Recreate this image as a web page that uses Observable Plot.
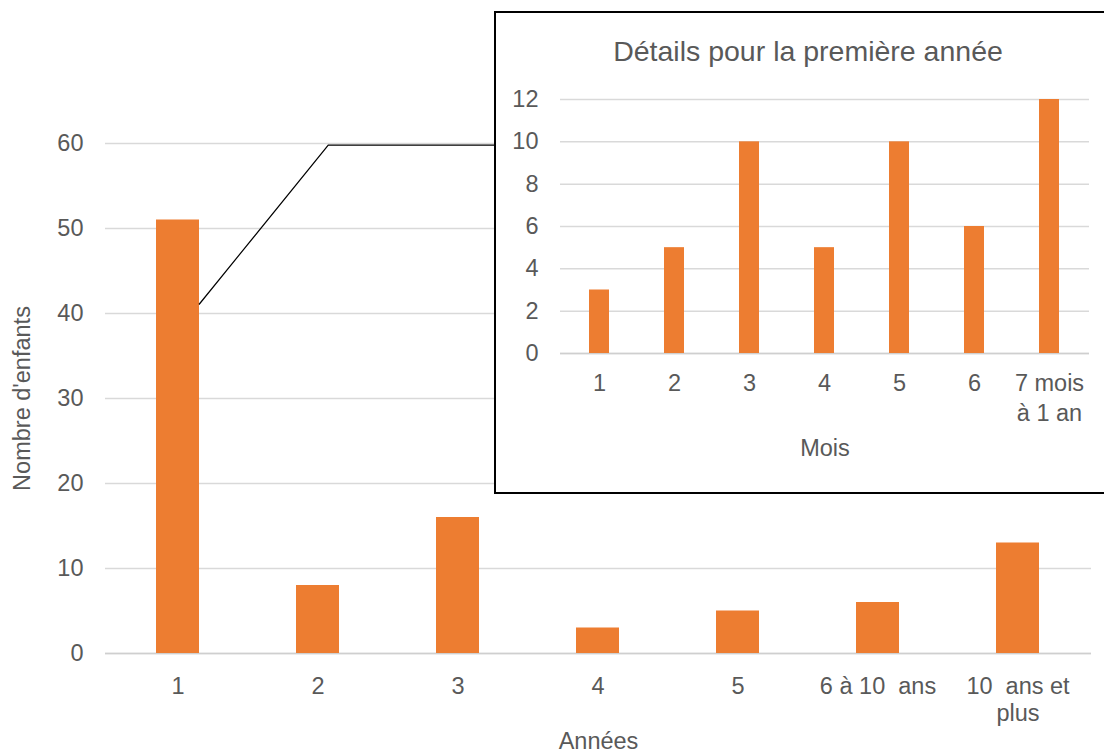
<!DOCTYPE html>
<html>
<head>
<meta charset="utf-8">
<script src="https://cdn.jsdelivr.net/npm/d3@7"></script>
<script src="https://cdn.jsdelivr.net/npm/@observablehq/plot@0.6"></script>
<style>
  html, body { margin: 0; padding: 0; background: #fff; }
  #wrap { position: relative; width: 1104px; height: 755px; overflow: hidden; background: #fff; }
  #inset { position: absolute; left: 494px; top: 11px; width: 626px; height: 479px; border: 2px solid #000; background: #fff; }
  svg text { white-space: pre; }
</style>
</head>
<body>
<div id="wrap"><div id="main"></div><div id="inset"></div></div>
<script>
// ---- Data ----
const annees = ["1", "2", "3", "4", "5", "6 à 10  ans", "10  ans et\nplus"];
const enfants = [51, 8, 16, 3, 5, 6, 13];
const yTicksMain = [0, 10, 20, 30, 40, 50, 60];

const mois = ["1", "2", "3", "4", "5", "6", "7 mois\nà 1 an"];
const enfantsMois = [3, 5, 10, 5, 10, 6, 12];
const yTicksInset = [0, 2, 4, 6, 8, 10, 12];

const mainTitleX = "Années";
const mainTitleY = "Nombre d'enfants";
const insetTitle = "Détails pour la première année";
const insetTitleX = "Mois";

const mainData = annees.map((c, i) => ({cat: c, val: enfants[i]}));
const insetData = mois.map((c, i) => ({cat: c, val: enfantsMois[i]}));

const FONT = "'Liberation Sans', Arial, Helvetica, sans-serif";
const TXT = "#595959";
const ORANGE = "#ED7D31";
const GRID = "#d9d9d9";
const FS = 23.5;

// connector from the first bar to the inset
function connector(index, scales, values, dims) {
  const x = scales.x, y = scales.y, bw = x.bandwidth();
  const x0 = x(annees[0]) + bw, y0 = y(41);
  const x1 = x(annees[1]) + bw * 0.75, y1 = y(59.75);
  const x2 = 496;
  return d3.create("svg:path")
    .attr("d", `M${x0},${y0}L${x1},${y1}L${x2},${y1}`)
    .attr("fill", "none").attr("stroke", "#000").attr("stroke-width", 1.2)
    .node();
}

const main = Plot.plot({
  width: 1104, height: 755,
  marginLeft: 105, marginRight: 13, marginTop: 143, marginBottom: 102,
  style: {fontFamily: FONT, fontSize: FS + "px", color: TXT, background: "#fff"},
  x: {domain: annees, paddingInner: 0.69, paddingOuter: 0.345, label: null},
  y: {domain: [0, 60], label: null},
  marks: [
    Plot.gridY(yTicksMain, {stroke: GRID, strokeOpacity: 1, strokeWidth: 1.5}),
    Plot.ruleY([0], {stroke: "#cfcfcf", strokeWidth: 1.5}),
    Plot.barY(mainData, {x: "cat", y: "val", fill: ORANGE}),
    Plot.axisY({ticks: yTicksMain, tickSize: 0, tickPadding: 22, label: null, fill: TXT}),
    Plot.axisX({tickSize: 0, tickPadding: 21, lineHeight: 1.15, label: null, fill: TXT}),
    Plot.text([mainTitleY], {frameAnchor: "left", textAnchor: "middle", rotate: -90, dx: -83, fill: TXT, fontSize: FS}),
    Plot.text([mainTitleX], {frameAnchor: "bottom", dy: 95, fill: TXT, fontSize: FS}),
    connector
  ]
});
document.getElementById("main").appendChild(main);

const inset = Plot.plot({
  width: 626, height: 479,
  marginLeft: 64, marginRight: 33, marginTop: 86, marginBottom: 139,
  style: {fontFamily: FONT, fontSize: FS + "px", color: TXT, background: "#fff"},
  x: {domain: mois, paddingInner: 0.73, paddingOuter: 0.365, label: null},
  y: {domain: [0, 12], label: null},
  marks: [
    Plot.gridY(yTicksInset, {stroke: GRID, strokeOpacity: 1, strokeWidth: 1.5}),
    Plot.ruleY([0], {stroke: "#cfcfcf", strokeWidth: 1.5}),
    Plot.barY(insetData, {x: "cat", y: "val", fill: ORANGE}),
    Plot.axisY({ticks: yTicksInset, tickSize: 0, tickPadding: 22, label: null, fill: TXT}),
    Plot.axisX({tickSize: 0, tickPadding: 17, lineHeight: 1.25, label: null, fill: TXT}),
    Plot.text([insetTitle], {frameAnchor: "top", dx: -17, dy: -59, fill: TXT, fontSize: 28.5}),
    Plot.text([insetTitleX], {frameAnchor: "bottom", dy: 102, fill: TXT, fontSize: FS})
  ]
});
document.getElementById("inset").appendChild(inset);
</script>
</body>
</html>
